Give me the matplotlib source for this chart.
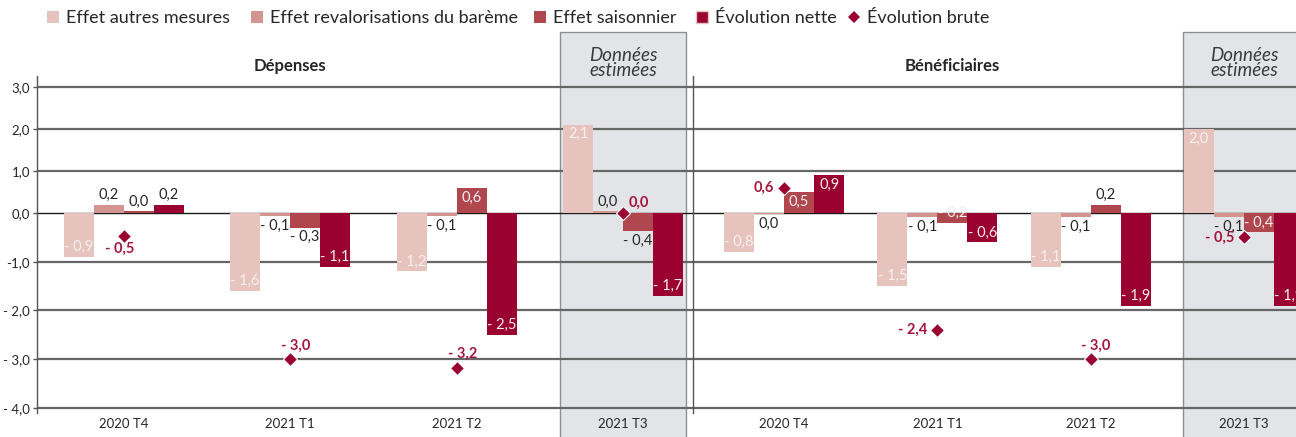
import matplotlib
matplotlib.use('Agg')
import numpy as np
import matplotlib.pyplot as plt
from matplotlib.patches import Rectangle
from matplotlib.lines import Line2D
from matplotlib.transforms import blended_transform_factory

plt.rcParams['font.family'] = ['Lato', 'DejaVu Sans']

# ---------------- data ----------------
categories = ['2020 T4', '2021 T1', '2021 T2', '2021 T3']
series_names = ['Effet autres mesures', 'Effet revalorisations du barème',
                'Effet saisonnier', 'Évolution nette']
brute_name = 'Évolution brute'
panel_titles = ['Dépenses', 'Bénéficiaires']
estimated_label = 'Données\nestimées'
ytick_values = [3, 2, 1, 0, -1, -2, -3, -4]
ytick_labels = ['3,0', '2,0', '1,0', '0,0', '-1,0', '- 2,0', '- 3,0', '- 4,0']

dep_autres = [-0.9, -1.6, -1.2, 2.1]
dep_reval = [0.2, -0.07, -0.07, 0.04]
dep_saison = [0.04, -0.3, 0.6, -0.37]
dep_nette = [0.2, -1.1, -2.5, -1.7]
dep_brute = [-0.47, -3.0, -3.17, 0.0]

ben_autres = [-0.8, -1.5, -1.1, 2.0]
ben_reval = [-0.02, -0.08, -0.08, -0.08]
ben_saison = [0.5, -0.2, 0.2, -0.4]
ben_nette = [0.9, -0.6, -1.9, -1.9]
ben_brute = [0.6, -2.4, -3.0, -0.5]

# label placement styles ('in' = inside end, white ; 'out' = outside end, dark)
dep_label_pos = [['in'] * 4, ['out'] * 4, ['out', 'out', 'in', 'out'], ['out', 'in', 'in', 'in']]
ben_label_pos = [['in'] * 4, ['out'] * 4, ['in', 'in', 'out', 'in'], ['in'] * 4]
dep_brute_pos = ['below', 'above', 'above', 'right']
ben_brute_pos = ['left', 'left', 'above', 'left']

colors = ['#e6c3bd', '#d49590', '#b0474f', '#9a0030']
brute_color = '#9a0030'
brute_text_color = '#a3163d'
shade_color = '#e3e4e7'

# ---------------- layout ----------------
W, H = 1296, 437
ax_top_px, ax_bot_px = 75.5, 412.6
NEG_STRETCH = 48.75 / 42.0   # the value axis is drawn more spread below zero
legend_left_px = [46, 250, 533, 695, 847]


def fwd(v):
    v = np.asarray(v, dtype=float)
    return np.where(v >= 0, v, v * NEG_STRETCH)


def inv(t):
    t = np.asarray(t, dtype=float)
    return np.where(t >= 0, t, t / NEG_STRETCH)


def ax_rect(x0, x1):
    return [x0 / W, 1 - ax_bot_px / H, (x1 - x0) / W, (ax_bot_px - ax_top_px) / H]


def fmt(v):
    r = round(v, 1)
    if abs(r) < 0.05:
        return '0,0'
    s = f'{abs(r):.1f}'.replace('.', ',')
    return ('- ' + s) if r < 0 else s


fig = plt.figure(figsize=(W / 100, H / 100), dpi=100)
ax1 = fig.add_axes(ax_rect(37, 693))
ax2 = fig.add_axes(ax_rect(693, 1296))

panels = [
    (ax1, [dep_autres, dep_reval, dep_saison, dep_nette], dep_brute, dep_label_pos,
     dep_brute_pos, (-0.52, 3.42), 0.18, panel_titles[0], 1.0),
    (ax2, [ben_autres, ben_reval, ben_saison, ben_nette], ben_brute, ben_label_pos,
     ben_brute_pos, (-0.594, 3.34), 0.196, panel_titles[1], 1.1),
]

for idx, (ax, series, brute, lpos, bpos, xlim, bw, title, tx) in enumerate(panels):
    ax.set_yscale('function', functions=(fwd, inv))
    ax.set_xlim(*xlim)
    ax.set_ylim(-4.094, 3.27)
    x = list(range(len(categories)))
    # shaded "estimated" zone
    trans = blended_transform_factory(ax.transData, ax.transAxes)
    shade_half = 0.38 if idx == 0 else 0.40
    ax.add_patch(Rectangle((x[-1] - shade_half, -0.08), 2 * shade_half, 1.21,
                           transform=trans, clip_on=False, facecolor=shade_color,
                           edgecolor='#8f8f8f', lw=1.0, zorder=0.5))
    ax.text(x[-1], 1.037, estimated_label, transform=trans, ha='center', va='center',
            fontsize=13.5, style='italic', color='#3a3a3a', linespacing=0.85)
    ax.text(tx, 1.028, title, transform=trans, ha='center', va='center',
            fontsize=12, fontweight='bold', color='#262626')
    # gridlines
    for v in ytick_values:
        if v == 0:
            ax.axhline(v, color='#1a1a1a', lw=1.0, zorder=1.6)
        else:
            ax.axhline(v, color='#666666', lw=1.6, zorder=1.5)
    # bars
    for k, vals in enumerate(series):
        off = (k - 1.5) * bw
        xs = [xi + off for xi in x]
        ax.bar(xs, vals, width=bw, color=colors[k], zorder=2, linewidth=0)
        for xi, v, p in zip(xs, vals, lpos[k]):
            sign = 1 if v >= 0 else -1
            if p == 'in':
                dy, col = -sign * 7, '#f7f0f0'
            else:
                dy, col = sign * 7, '#262626'
            ax.annotate(fmt(v), (xi, v), xytext=(0, dy), textcoords='offset points',
                        ha='center', va='center', fontsize=10.5, color=col, zorder=5)
    # brute diamonds
    ax.plot(x, brute, linestyle='none', marker='D', markersize=7, color=brute_color,
            markeredgecolor='white', markeredgewidth=0.8, zorder=4)
    for xi, v, p in zip(x, brute, bpos):
        if p == 'below':
            xy, ha = (-3, -9), 'center'
        elif p == 'above':
            xy, ha = (4, 10), 'center'
        elif p == 'right':
            xy, ha = (4, 7), 'left'
        else:
            xy, ha = (-7, 0), 'right'
        ax.annotate(fmt(v), (xi, v), xytext=xy, textcoords='offset points', ha=ha,
                    va='center', fontsize=10.5, fontweight='bold', color=brute_text_color,
                    zorder=5)
    # axes styling
    for s in ['top', 'right', 'bottom']:
        ax.spines[s].set_visible(False)
    ax.spines['left'].set_color('#555555')
    ax.spines['left'].set_linewidth(1.0)
    ax.set_xticks(x)
    ax.set_xticklabels(categories, fontsize=9.5, color='#262626')
    ax.tick_params(axis='x', length=0, pad=4)
    ax.patch.set_alpha(0)
    ax.yaxis.set_minor_locator(matplotlib.ticker.NullLocator())
    if idx == 0:
        ax.set_yticks(ytick_values)
        ax.set_yticklabels(ytick_labels, fontsize=9.5, color='#262626')
        ax.tick_params(axis='y', length=3, width=1, color='#555555', pad=2)
    else:
        ax.set_yticks([])

# legend (one entry per box, placed like the reference)
handles = [Line2D([], [], linestyle='none', marker='s', markersize=8.5, color=c,
                  markeredgewidth=0) for c in colors[:3]]
handles.append(Line2D([], [], linestyle='none', marker='s', markersize=8.5, color=colors[3],
                      markeredgecolor='#e6c3bd', markeredgewidth=1))
handles.append(Line2D([], [], linestyle='none', marker='D', markersize=6.5, color=brute_color,
                      markeredgewidth=0))
for h, name, xpx in zip(handles, series_names + [brute_name], legend_left_px):
    fig.legend([h], [name], loc='center left', bbox_to_anchor=(xpx / W, 1 - 18 / H),
               frameon=False, fontsize=13, handlelength=0.8, handletextpad=0.3,
               borderpad=0, borderaxespad=0, labelcolor='#262626')

fig.savefig('out.png', dpi=100)
